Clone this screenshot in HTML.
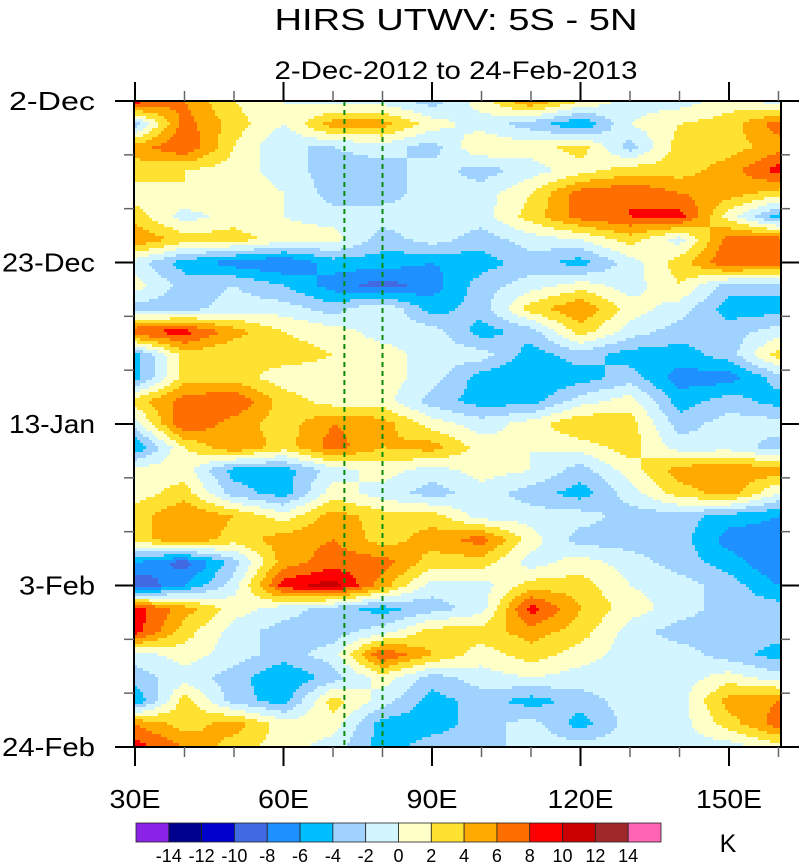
<!DOCTYPE html>
<html><head><meta charset="utf-8">
<style>
html,body{margin:0;padding:0;background:#fff;}
body{width:800px;height:863px;overflow:hidden;font-family:"Liberation Sans",sans-serif;}
svg text{font-family:"Liberation Sans",sans-serif;fill:#000;}
</style></head>
<body>
<svg id="chart" width="800" height="863" viewBox="0 0 800 863">
  <text x="456" y="30" font-size="31" text-anchor="middle" textLength="363" lengthAdjust="spacingAndGlyphs">HIRS UTWV: 5S - 5N</text>
  <text x="456" y="79" font-size="25" text-anchor="middle" textLength="363" lengthAdjust="spacingAndGlyphs">2-Dec-2012 to 24-Feb-2013</text>
  <g id="cells"></g>
  <g id="refs"></g>
  <rect x="134" y="101" width="647" height="646" fill="none" stroke="#000" stroke-width="2"/>
  <g id="axes"></g>
  <g id="cbar"></g>
  <text x="728" y="852" font-size="25" text-anchor="middle">K</text>
</svg>
<script>
// ---- data ----
const lons = [30,40,50,60,70,80,90,100,110,120,130,140,150,160];
const days = [0,3,6,9,12,15,18,21,24,27,30,33,36,39,42,45,48,51,54,57,60,63,66,69,72,75,78,81,84];
const dayTickLabels = ["2-Dec","23-Dec","13-Jan","3-Feb","24-Feb"];
const dayTickValues = [0,21,42,63,84];
const lonTickValues = [30,60,90,120,150];
const lonTickLabels = ["30E","60E","90E","120E","150E"];
const refLons = [72.3,80];
const levels = [-14,-12,-10,-8,-6,-4,-2,0,2,4,6,8,10,12,14];
const levelColors = ["#8a22e8","#00008f","#0000cd","#4169e1","#1e90ff","#00bfff","#a0d2ff","#d2f5ff","#ffffc8","#ffe132","#ffaa00","#ff6e00","#ff0000","#c80000","#a02828","#ff64b4"];
const values = [
[9,6,2,0,-1,-1,-3,1,6,2,-1,-1,1,-1],
[-3,7,3,0,5,5,1,-1,-3,-6,0,2,3,7],
[5,8,2,-2,-2,-1,-3,2,1,3,-3,3,3,5],
[3,2,1,-1,-3,-3,-1,-3,-1,1,3,3,5,9],
[1,2,2,0,-3,-3,-1,-1,2,7,8,6,5,3],
[3,-1,1,0,-1,-1,-1,-1,3,7,8,9,1,-5],
[6,3,3,1,1,-3,-1,-3,-1,0,3,-1,7,7],
[-1,-5,-7,-8,-5,-5,-6,-5,-3,-5,-1,3,8,7],
[1,-3,-2,-4,-7,-9,-7,-3,-1,1,-1,2,-3,-3],
[-3,-3,-1,-1,-3,0,-5,-3,3,6,1,-1,-5,-5],
[8,9,5,2,1,-1,-1,-5,-3,3,-1,-3,-3,-1],
[-5,3,2,3,2,1,-1,-1,-5,-3,-5,-5,-3,3],
[-5,3,3,1,1,1,-1,-5,-6,-5,-3,-7,-7,-3],
[3,7,8,3,1,1,-3,-5,-5,-1,1,-5,-3,-5],
[-1,8,5,3,6,5,1,-1,1,4,3,-3,-1,-1],
[-6,2,6,3,7,4,5,1,0,1,3,-1,-1,-3],
[1,1,-5,-5,-1,1,-1,1,0,-3,1,5,6,5],
[1,3,-3,-5,1,-1,-3,-1,-3,-5,-1,3,5,0],
[3,6,4,1,5,3,3,-1,-1,-1,-3,-3,-5,-6],
[3,6,3,5,6,3,5,7,1,-3,-3,-3,-7,-7],
[-6,-9,-3,5,7,7,3,3,-1,1,-1,-3,-5,-8],
[-10,-6,-1,9,11,5,-1,-1,3,3,0,-1,-3,-6],
[9,5,1,-1,-3,-5,-3,-1,9,4,1,-1,-3,-3],
[9,3,-1,-3,-3,-1,3,3,5,3,-1,-3,-3,-3],
[-1,1,-1,-3,-1,8,4,1,3,1,-1,-1,-3,-5],
[-3,-1,-3,-6,-3,1,-3,-1,0,-1,-1,-1,1,-1],
[-6,3,-3,-5,3,-1,-5,-3,-5,-3,-1,-1,5,6],
[6,3,5,1,1,-5,-5,-3,-1,-5,-1,-1,3,7],
[9,6,3,1,-1,-5,-3,-3,-1,-1,-1,-1,-1,1]
];
// ---- scales ----
const X0=134,X1=781,Y0=101,Y1=747;
const xs = lon => 135 + (lon-30)*4.95;
const ys = d => Y0 + d*(Y1-Y0)/84;
const NS="http://www.w3.org/2000/svg";
function colorFor(v){let i=0;while(i<levels.length&&v>=levels[i])i++;return levelColors[i];}
function sample(lon,d){
  lon=Math.max(lons[0],Math.min(lons[lons.length-1],lon));
  d=Math.max(days[0],Math.min(days[days.length-1],d));
  let i=0;while(i<lons.length-2&&lon>lons[i+1])i++;
  let j=0;while(j<days.length-2&&d>days[j+1])j++;
  const tx=(lon-lons[i])/(lons[i+1]-lons[i]), ty=(d-days[j])/(days[j+1]-days[j]);
  const a=values[j][i],b=values[j][i+1],c=values[j+1][i],e=values[j+1][i+1];
  return (a*(1-tx)+b*tx)*(1-ty)+(c*(1-tx)+e*tx)*ty;
}
// ---- field ----
const cells=document.getElementById('cells');
const sx=3, sy=3;
function addRun(x0,x1,py,col){
  const r=document.createElementNS(NS,'rect');
  r.setAttribute('x',x0);r.setAttribute('y',py);
  r.setAttribute('width',x1-x0+0.3);r.setAttribute('height',Math.min(sy,Y1-py)+0.5);
  r.setAttribute('fill',col);
  
  
  cells.appendChild(r);
}
for(let py=Y0;py<Y1;py+=sy){
  let runStart=X0,runCol=null;
  for(let px=X0;px<X1;px+=sx){
    const lon=30+(px+sx/2-135)/4.95, d=(py+sy/2-Y0)*84/(Y1-Y0);
    const col=colorFor(sample(lon,d));
    if(col!==runCol){
      if(runCol) addRun(runStart,px,py,runCol);
      runStart=px;runCol=col;
    }
  }
  if(runCol) addRun(runStart,X1,py,runCol);
}
// ---- reference lines ----
const refs=document.getElementById('refs');
refLons.forEach(l=>{
  const ln=document.createElementNS(NS,'line');
  ln.setAttribute('x1',xs(l));ln.setAttribute('x2',xs(l));ln.setAttribute('y1',Y0);ln.setAttribute('y2',Y1);
  ln.setAttribute('stroke','#0a8a0a');ln.setAttribute('stroke-width','2');ln.setAttribute('stroke-dasharray','5,4');
  
  
  refs.appendChild(ln);
});
// ---- axes ----
const axes=document.getElementById('axes');
function line(x1,y1,x2,y2,w,col,name){const l=document.createElementNS(NS,'line');l.setAttribute('x1',x1);l.setAttribute('y1',y1);l.setAttribute('x2',x2);l.setAttribute('y2',y2);l.setAttribute('stroke',col);l.setAttribute('stroke-width',w);


axes.appendChild(l);}
function text(x,y,s,size,anchor,len,name){const t=document.createElementNS(NS,'text');t.setAttribute('x',x);t.setAttribute('y',y);t.setAttribute('font-size',size);t.setAttribute('text-anchor',anchor);
t.setAttribute('textLength',len);t.setAttribute('lengthAdjust','spacingAndGlyphs');t.textContent=s;


axes.appendChild(t);}
for(let d=0;d<=84;d+=7){
  const y=ys(d);
  if(d%21===0){line(115,y,X0,y,2,'#000','y-major-tick');line(X1,y,799,y,2,'#000','y-major-tick');}
  else{line(124,y,X0,y,1.5,'#666','y-minor-tick');line(X1,y,790,y,1.5,'#666','y-minor-tick');}
}
const yLabelWidths=[86,93,86,76,93];
dayTickValues.forEach((d,i)=>text(95,ys(d)+9,dayTickLabels[i],26,'end',yLabelWidths[i],'y-tick-label'));
for(let l=30;l<=160;l+=10){
  const x=xs(l);const major=lonTickValues.includes(l);
  const len=major?19:10;
  line(x,Y0,x,Y0-len,major?2:1.5,major?'#000':'#666',major?'x-major-tick':'x-minor-tick');
  line(x,Y1,x,Y1+len,major?2:1.5,major?'#000':'#666',major?'x-major-tick':'x-minor-tick');
}
const xLabelWidths=[51,51,51,66,66];
lonTickValues.forEach((l,i)=>text(xs(l),808,lonTickLabels[i],26,'middle',xLabelWidths[i],'x-tick-label'));
// ---- colorbar ----
const cbar=document.getElementById('cbar');
const cbX=136,cbW=525,cbY=823,cbH=19,bw=cbW/levelColors.length;
levelColors.forEach((c,i)=>{
  const r=document.createElementNS(NS,'rect');
  r.setAttribute('x',cbX+i*bw);r.setAttribute('y',cbY);r.setAttribute('width',bw);r.setAttribute('height',cbH);
  r.setAttribute('fill',c);r.setAttribute('stroke','#222');r.setAttribute('stroke-width','0.8');
  
  
  cbar.appendChild(r);
});
levels.forEach((v,i)=>{
  const t=document.createElementNS(NS,'text');
  t.setAttribute('x',cbX+(i+1)*bw);t.setAttribute('y',862);t.setAttribute('font-size','18');t.setAttribute('text-anchor','middle');
  t.textContent=String(v);
  
  
  cbar.appendChild(t);
});
</script>
</body></html>
